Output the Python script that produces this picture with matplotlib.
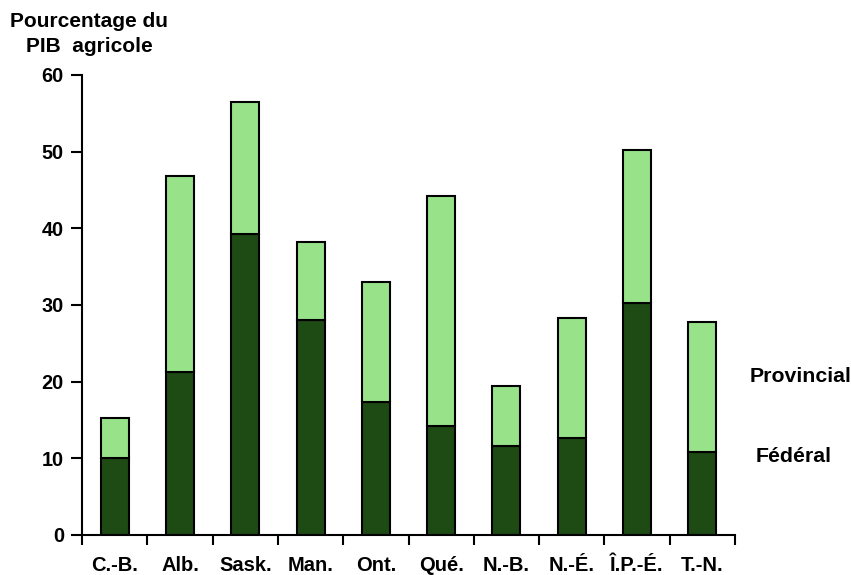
import numpy as np
import matplotlib.pyplot as plt

provinces = ['C.-B.', 'Alb.', 'Sask.', 'Man.', 'Ont.', 'Qué.', 'N.-B.', 'N.-É.', 'Î.P.-É.', 'T.-N.']
federal = [10.0, 21.3, 39.3, 28.1, 17.4, 14.2, 11.6, 12.6, 30.2, 10.8]
total = [15.3, 46.8, 56.5, 38.2, 33.0, 44.2, 19.4, 28.3, 50.2, 27.8]
provincial = [t - f for t, f in zip(total, federal)]

dark = '#1E4A14'
light = '#98E38A'

plt.rcParams['font.family'] = ['Liberation Sans', 'DejaVu Sans']
plt.rcParams['font.weight'] = 'bold'

fig = plt.figure(figsize=(8.51, 5.75), dpi=100)
ax = fig.add_axes([82/851, 40/575, (735-82)/851, 460/575])

x = np.arange(len(provinces))
ax.bar(x, federal, width=0.43, color=dark, edgecolor='black', linewidth=1.5)
ax.bar(x, provincial, width=0.43, bottom=federal, color=light, edgecolor='black', linewidth=1.5)

ax.set_xlim(-0.5, len(provinces) - 0.5)
ax.set_ylim(0, 60)
ax.set_yticks(range(0, 61, 10))
ax.set_xticks(np.arange(-0.5, len(provinces), 1.0))
ax.set_xticklabels([])
ax.set_xticks(x, minor=True)
ax.set_xticklabels(provinces, minor=True, fontsize=14.5, fontweight='bold')
ax.tick_params(axis='x', which='minor', length=0, pad=15)
ax.tick_params(axis='x', which='major', direction='out', length=7, width=1.5)
ax.tick_params(axis='y', direction='out', length=8, width=1.5, labelsize=14.3, pad=5)
for lab in ax.get_yticklabels():
    lab.set_fontweight('bold')

for s in ['top', 'right']:
    ax.spines[s].set_visible(False)
for s in ['left', 'bottom']:
    ax.spines[s].set_linewidth(1.5)

fig.text(89/851, 1 - 34/575, 'Pourcentage du\nPIB  agricole', ha='center', va='center',
         fontsize=15, fontweight='bold', linespacing=1.45)
fig.text(750/851, 1 - 377/575, 'Provincial', ha='left', va='center', fontsize=15.3, fontweight='bold')
fig.text(756/851, 1 - 457/575, 'Fédéral', ha='left', va='center', fontsize=15.3, fontweight='bold')

fig.savefig('out.png', dpi=100)
